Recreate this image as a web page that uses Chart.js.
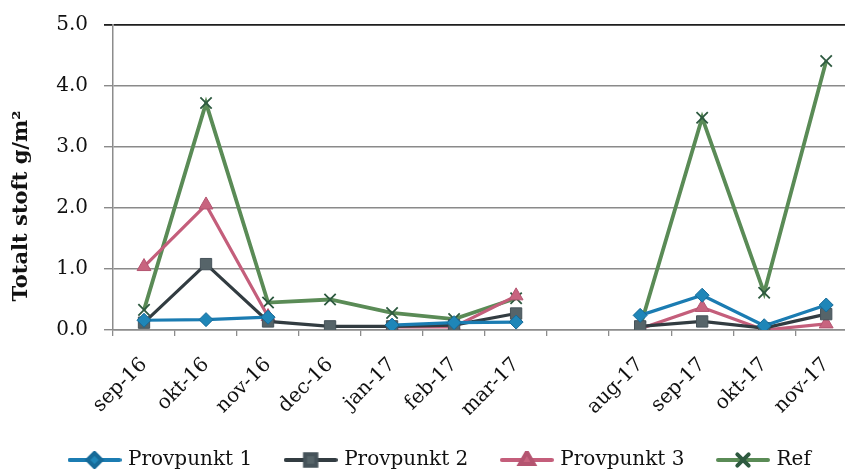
<!DOCTYPE html>
<html>
<head>
<meta charset="utf-8">
<script src="https://cdn.jsdelivr.net/npm/chart.js@4.4.1/dist/chart.umd.min.js"></script>
<style>
  html, body { margin: 0; padding: 0; background: #fff; overflow: hidden; }
  #wrap { position: absolute; left: 0; top: 0; width: 867px; height: 480px; }
</style>
</head>
<body>
<div id="wrap"><canvas id="c"></canvas></div>
<script>
// Months sampled (the empty slot marks the spring/summer break without samples)
const months = ['sep-16', 'okt-16', 'nov-16', 'dec-16', 'jan-17', 'feb-17', 'mar-17', '', 'aug-17', 'sep-17', 'okt-17', 'nov-17'];

// Total dust deposition, g/m2
const provpunkt1 = [0.16, 0.17, 0.21, null, 0.08, 0.12, 0.13, null, 0.24, 0.57, 0.07, 0.41];
const provpunkt2 = [0.12, 1.08, 0.14, 0.06, 0.06, 0.08, 0.27, null, 0.06, 0.14, 0.03, 0.26];
const provpunkt3 = [1.04, 2.05, 0.22, null, 0.05, 0.05, 0.56, null, 0.02, 0.37, 0.00, 0.10];
const ref        = [0.33, 3.72, 0.45, 0.50, 0.28, 0.18, 0.52, null, 0.05, 3.48, 0.61, 4.41];

const yTicks = [0, 1, 2, 3, 4, 5];
const yTitle = 'Totalt stoft g/m²';

const FONT = "'DejaVu Serif', 'Liberation Serif', serif";

const styles = [
  { label: 'Provpunkt 1', data: provpunkt1, line: '#1b7cb2', fill: '#1f86b8', edge: '#166a98', point: 'rectRot', radius: 7, width: 3.2 },
  { label: 'Provpunkt 2', data: provpunkt2, line: '#323c41', fill: '#566469', edge: '#46535a', point: 'rect', radius: 8, width: 3.2 },
  { label: 'Provpunkt 3', data: provpunkt3, line: '#c45e7b', fill: '#c8647f', edge: '#b45470', point: 'triangle', radius: 8, width: 3.2 },
  { label: 'Ref', data: ref, line: '#5a8b56', fill: '#2e5a40', edge: '#2e5a40', point: 'crossRot', radius: 8, width: 3.8 }
];

// Legend key: a short line segment with the series marker in the middle
function legendIcon(s) {
  const cv = document.createElement('canvas');
  cv.width = 54; cv.height = 18;
  const ctx = cv.getContext('2d');
  ctx.strokeStyle = s.line;
  ctx.lineWidth = 4;
  ctx.lineCap = 'round';
  ctx.beginPath(); ctx.moveTo(2, 9); ctx.lineTo(52, 9); ctx.stroke();
  ctx.fillStyle = s.fill;
  ctx.strokeStyle = s.edge;
  Chart.helpers.drawPoint(ctx, { pointStyle: s.point, rotation: 0, radius: s.radius, borderWidth: s.point === 'crossRot' ? 1.6 : 1 }, 27, 9);
  return cv;
}

const datasets = styles.map(s => ({
  label: s.label,
  data: s.data,
  borderColor: s.line,
  backgroundColor: s.fill,
  borderWidth: s.width,
  pointStyle: s.point,
  pointRadius: s.radius,
  pointBackgroundColor: s.fill,
  pointBorderColor: s.edge,
  pointBorderWidth: s.point === 'crossRot' ? 1.8 : 1,
  tension: 0,
  spanGaps: false,
  fill: false
}));

const icons = styles.map(legendIcon);

// Rotated, bold value-axis title placed beside the tick labels
const yTitlePlugin = {
  id: 'yTitle',
  afterDraw(chart) {
    const ctx = chart.ctx;
    ctx.save();
    ctx.translate(22, 206);
    ctx.rotate(-Math.PI / 2);
    ctx.font = "bold 21px " + FONT;
    ctx.fillStyle = '#111';
    ctx.textAlign = 'center';
    ctx.textBaseline = 'middle';
    ctx.fillText(yTitle, 0, 0);
    ctx.restore();
  }
};

new Chart(document.getElementById('c'), {
  type: 'line',
  data: { labels: months, datasets },
  plugins: [yTitlePlugin],
  options: {
    responsive: true,
    maintainAspectRatio: false,
    animation: false,
    devicePixelRatio: 1,
    layout: { padding: { left: 36, right: 0, top: 25, bottom: 0 } },
    plugins: {
      tooltip: { enabled: false },
      legend: {
        position: 'bottom',
        align: 'start',
        labels: {
          usePointStyle: true,
          pointStyleWidth: 47,
          padding: 35,
          color: '#111',
          font: { family: FONT, size: 20 },
          generateLabels(chart) {
            const items = Chart.defaults.plugins.legend.labels.generateLabels(chart);
            items.forEach((it, i) => { it.pointStyle = icons[i]; });
            return items;
          }
        }
      }
    },
    scales: {
      x: {
        offset: true,
        afterFit(axis) { axis.height = 85; },
        grid: {
          offset: true,
          drawOnChartArea: false,
          drawTicks: true,
          tickLength: 6,
          color: '#8c8c8c',
          lineWidth: 1.3
        },
        border: { color: '#8c8c8c', width: 1.5 },
        ticks: {
          autoSkip: false,
          maxRotation: 45,
          minRotation: 45,
          padding: 17,
          color: '#111',
          font: { family: FONT, size: 20 }
        }
      },
      y: {
        min: 0,
        max: 5,
        afterFit(axis) { axis.width = 77; axis.paddingTop = 0; },
        afterBuildTicks(axis) { axis.ticks = yTicks.map(v => ({ value: v })); },
        grid: {
          drawTicks: true,
          tickLength: 9,
          color: ctx => (ctx.tick && ctx.tick.value === 5 ? '#1e1e1e' : '#8a8a8a'),
          lineWidth: ctx => (ctx.tick && ctx.tick.value === 5 ? 1.8 : 1.4)
        },
        border: { color: '#8c8c8c', width: 1.5 },
        ticks: {
          padding: 16,
          color: '#111',
          font: { family: FONT, size: 20 },
          callback: v => Number(v).toFixed(1)
        },
        title: { display: false }
      }
    }
  }
});
</script>
</body>
</html>
